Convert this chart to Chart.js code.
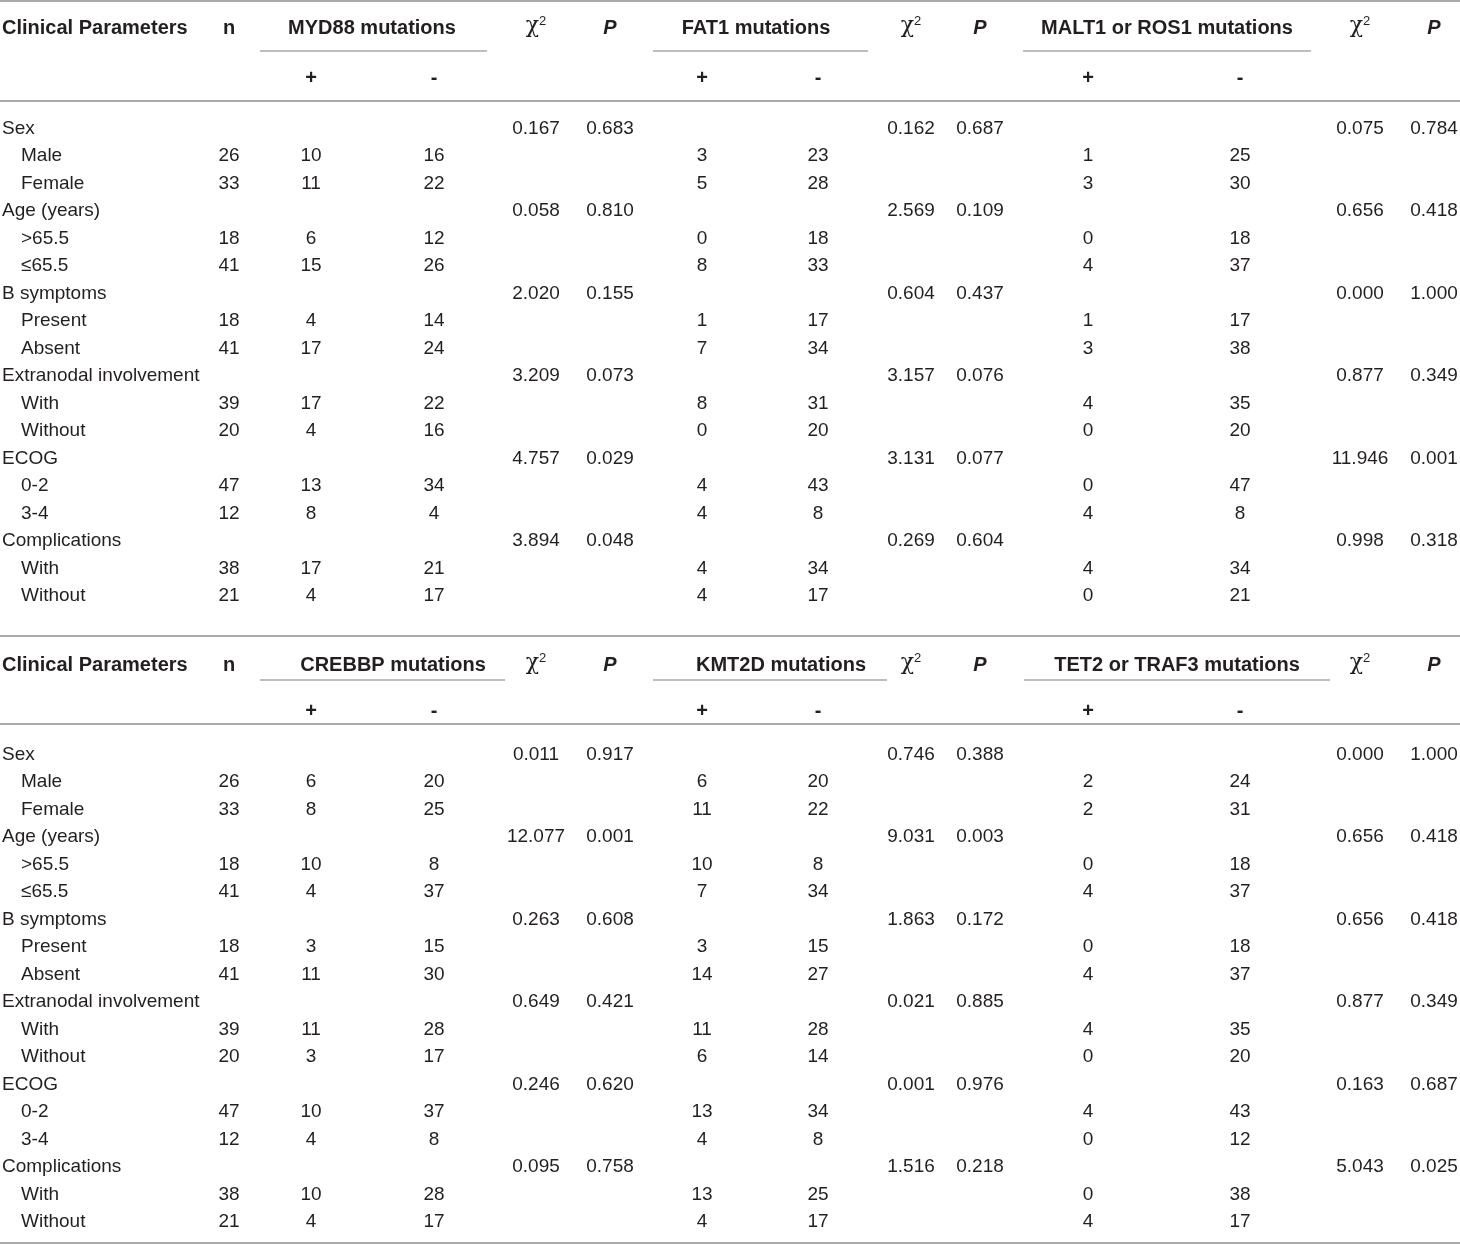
<!DOCTYPE html>
<html><head><meta charset="utf-8">
<script src="https://cdn.jsdelivr.net/npm/chart.js@4.4.1/dist/chart.umd.min.js"></script>
<style>html,body{margin:0;padding:0;background:#fff;}#wrap{width:1460px;height:1244px;position:relative;}</style>
</head><body><div id="wrap"><canvas id="c" width="1460" height="1244" style="width:1460px;height:1244px"></canvas></div>
<script>
// ================= DATA =================
const paramHeader = 'Clinical Parameters';
const nHeader = 'n';
const posHeader = '+';
const negHeader = '-';
const chiHeader = 'χ';
const pHeader = 'P';
const groups = ['Sex', 'Age (years)', 'B symptoms', 'Extranodal involvement', 'ECOG', 'Complications'];
const levels = [['Male', 'Female'], ['>65.5', '≤65.5'], ['Present', 'Absent'], ['With', 'Without'], ['0-2', '3-4'], ['With', 'Without']];
const nValues = [26, 33, 18, 41, 18, 41, 39, 20, 47, 12, 38, 21];

const genesTop = ['MYD88 mutations', 'FAT1 mutations', 'MALT1 or ROS1 mutations'];
const genesBottom = ['CREBBP mutations', 'KMT2D mutations', 'TET2 or TRAF3 mutations'];

const myd88Plus  = [10, 11, 6, 15, 4, 17, 17, 4, 13, 8, 17, 4];
const myd88Minus = [16, 22, 12, 26, 14, 24, 22, 16, 34, 4, 21, 17];
const myd88Chi   = [0.167, 0.058, 2.020, 3.209, 4.757, 3.894];
const myd88P     = [0.683, 0.810, 0.155, 0.073, 0.029, 0.048];

const fat1Plus  = [3, 5, 0, 8, 1, 7, 8, 0, 4, 4, 4, 4];
const fat1Minus = [23, 28, 18, 33, 17, 34, 31, 20, 43, 8, 34, 17];
const fat1Chi   = [0.162, 2.569, 0.604, 3.157, 3.131, 0.269];
const fat1P     = [0.687, 0.109, 0.437, 0.076, 0.077, 0.604];

const maltPlus  = [1, 3, 0, 4, 1, 3, 4, 0, 0, 4, 4, 0];
const maltMinus = [25, 30, 18, 37, 17, 38, 35, 20, 47, 8, 34, 21];
const maltChi   = [0.075, 0.656, 0.000, 0.877, 11.946, 0.998];
const maltP     = [0.784, 0.418, 1.000, 0.349, 0.001, 0.318];

const crebbpPlus  = [6, 8, 10, 4, 3, 11, 11, 3, 10, 4, 10, 4];
const crebbpMinus = [20, 25, 8, 37, 15, 30, 28, 17, 37, 8, 28, 17];
const crebbpChi   = [0.011, 12.077, 0.263, 0.649, 0.246, 0.095];
const crebbpP     = [0.917, 0.001, 0.608, 0.421, 0.620, 0.758];

const kmt2dPlus  = [6, 11, 10, 7, 3, 14, 11, 6, 13, 4, 13, 4];
const kmt2dMinus = [20, 22, 8, 34, 15, 27, 28, 14, 34, 8, 25, 17];
const kmt2dChi   = [0.746, 9.031, 1.863, 0.021, 0.001, 1.516];
const kmt2dP     = [0.388, 0.003, 0.172, 0.885, 0.976, 0.218];

const tetPlus  = [2, 2, 0, 4, 0, 4, 4, 0, 4, 0, 0, 4];
const tetMinus = [24, 31, 18, 37, 18, 37, 35, 20, 43, 12, 38, 17];
const tetChi   = [0.000, 0.656, 0.656, 0.877, 0.163, 5.043];
const tetP     = [1.000, 0.418, 0.418, 0.349, 0.687, 0.025];

// ================= LAYOUT / STYLE =================
const W = 1460, H = 1244;
const TEXT = '#231f20';
const RULE = '#a9a9a9';
const BODY_FONT = '19px "Liberation Sans", Arial, sans-serif';
const BOLD_FONT = 'bold 20px "Liberation Sans", Arial, sans-serif';
const CHI_FONT = '22px "DejaVu Serif", "Liberation Serif", serif';
const SUP_FONT = '13px "Liberation Sans", Arial, sans-serif';
const COL = { label: 2, sub: 21, n: 229, plus: [311, 702, 1088], minus: [434, 818, 1240], chi: [536, 911, 1360], p: [610, 980, 1434] };
const ROW_H = 27.47;
const PANELS = [
  { top: 1, title: 27, underline: 51, sign: 77, rule: 101, rowStart: 127,
    genes: genesTop, geneCenters: [372, 756, 1167], spans: [[260, 487], [653, 868], [1023, 1311]],
    stats: [[myd88Plus, myd88Minus, myd88Chi, myd88P], [fat1Plus, fat1Minus, fat1Chi, fat1P], [maltPlus, maltMinus, maltChi, maltP]] },
  { top: 636, title: 664, underline: 680, sign: 710, rule: 724, rowStart: 753, bottom: 1243,
    genes: genesBottom, geneCenters: [393, 781, 1177], spans: [[260, 505], [653, 887], [1024, 1330]],
    stats: [[crebbpPlus, crebbpMinus, crebbpChi, crebbpP], [kmt2dPlus, kmt2dMinus, kmt2dChi, kmt2dP], [tetPlus, tetMinus, tetChi, tetP]] }
];

// build datasets (each point carries its text; position comes from layout)
const datasets = [];
function addSet(name, points, style) {
  datasets.push(Object.assign({ label: name, data: points, pointRadius: 0, pointHoverRadius: 0, showLine: false }, style));
}
PANELS.forEach((pn, pi) => {
  const rowY = (r) => pn.rowStart + r * ROW_H;
  const hdr = [
    { x: COL.label, y: pn.title, text: paramHeader, align: 'left' },
    { x: COL.n, y: pn.title, text: nHeader, align: 'center' }
  ];
  pn.genes.forEach((g, gi) => {
    hdr.push({ x: pn.geneCenters[gi], y: pn.title, text: g, align: 'center' });
    hdr.push({ x: COL.plus[gi], y: pn.sign, text: posHeader, align: 'center' });
    hdr.push({ x: COL.minus[gi], y: pn.sign, text: negHeader, align: 'center' });
  });
  addSet('header' + pi, hdr, { kind: 'text', font: BOLD_FONT });
  const chiP = [];
  pn.genes.forEach((g, gi) => {
    chiP.push({ x: COL.chi[gi], y: pn.title, text: chiHeader, kind: 'chi' });
    chiP.push({ x: COL.p[gi], y: pn.title, text: pHeader, kind: 'p' });
  });
  addSet('statsHeader' + pi, chiP, { kind: 'special' });

  const labels = [], ns = [];
  let r = 0, k = 0;
  groups.forEach((g, gi) => {
    labels.push({ x: COL.label, y: rowY(r), text: g, align: 'left' }); r++;
    levels[gi].forEach((lv) => {
      labels.push({ x: COL.sub, y: rowY(r), text: lv, align: 'left' });
      ns.push({ x: COL.n, y: rowY(r), text: String(nValues[k]), align: 'center' });
      r++; k++;
    });
  });
  addSet('labels' + pi, labels, { kind: 'text', font: BODY_FONT });
  addSet('n' + pi, ns, { kind: 'text', font: BODY_FONT });

  pn.stats.forEach((st, gi) => {
    const [plus, minus, chi, pv] = st;
    const pp = [], mm = [], cc = [], vv = [];
    let rr = 0, kk = 0;
    groups.forEach((g, grp) => {
      cc.push({ x: COL.chi[gi], y: rowY(rr), text: chi[grp].toFixed(3), align: 'center' });
      vv.push({ x: COL.p[gi], y: rowY(rr), text: pv[grp].toFixed(3), align: 'center' });
      rr++;
      for (let j = 0; j < 2; j++) {
        pp.push({ x: COL.plus[gi], y: rowY(rr), text: String(plus[kk]), align: 'center' });
        mm.push({ x: COL.minus[gi], y: rowY(rr), text: String(minus[kk]), align: 'center' });
        rr++; kk++;
      }
    });
    addSet(pn.genes[gi] + ' +', pp, { kind: 'text', font: BODY_FONT });
    addSet(pn.genes[gi] + ' -', mm, { kind: 'text', font: BODY_FONT });
    addSet(pn.genes[gi] + ' chi', cc, { kind: 'text', font: BODY_FONT });
    addSet(pn.genes[gi] + ' P', vv, { kind: 'text', font: BODY_FONT });
  });
});

const tablePlugin = {
  id: 'tablePlugin',
  beforeDatasetsDraw(chart) {
    const { ctx, scales: { x, y } } = chart;
    ctx.save();
    ctx.strokeStyle = RULE;
    const hline = (x0, x1, yy, w) => {
      ctx.lineWidth = w;
      ctx.beginPath();
      ctx.moveTo(x.getPixelForValue(x0), y.getPixelForValue(yy));
      ctx.lineTo(x.getPixelForValue(x1), y.getPixelForValue(yy));
      ctx.stroke();
    };
    PANELS.forEach((pn) => {
      hline(0, W, pn.top, 2);
      hline(0, W, pn.rule, 2);
      pn.spans.forEach((s) => hline(s[0], s[1], pn.underline, 1.5));
      if (pn.bottom) hline(0, W, pn.bottom, 2);
    });
    ctx.restore();
  },
  afterDatasetsDraw(chart) {
    const { ctx } = chart;
    ctx.save();
    ctx.fillStyle = TEXT;
    ctx.textBaseline = 'alphabetic';
    chart.data.datasets.forEach((ds, di) => {
      const meta = chart.getDatasetMeta(di);
      meta.data.forEach((el, i) => {
        const d = ds.data[i];
        if (ds.kind === 'text') {
          ctx.font = ds.font;
          ctx.textAlign = d.align;
          ctx.fillText(d.text, el.x, el.y + 7);
        } else if (d.kind === 'chi') {
          ctx.font = CHI_FONT;
          const cw = ctx.measureText(d.text).width;
          ctx.font = SUP_FONT;
          const sw = ctx.measureText('2').width;
          const x0 = el.x - (cw + sw) / 2;
          ctx.textAlign = 'left';
          ctx.font = CHI_FONT;
          ctx.fillText(d.text, x0, el.y + 5);
          ctx.font = SUP_FONT;
          ctx.fillText('2', x0 + cw, el.y - 2);
        } else if (d.kind === 'p') {
          ctx.font = 'italic bold 20px "Liberation Sans", Arial, sans-serif';
          ctx.textAlign = 'center';
          ctx.fillText(d.text, el.x, el.y + 7);
        }
      });
    });
    ctx.restore();
  }
};

new Chart(document.getElementById('c'), {
  type: 'scatter',
  data: { datasets },
  options: {
    responsive: false,
    devicePixelRatio: 1,
    animation: false,
    layout: { padding: 0 },
    events: [],
    plugins: { legend: { display: false }, tooltip: { enabled: false } },
    scales: {
      x: { type: 'linear', min: 0, max: W, display: false },
      y: { type: 'linear', min: 0, max: H, reverse: true, display: false }
    }
  },
  plugins: [tablePlugin]
});
</script>
</body></html>
